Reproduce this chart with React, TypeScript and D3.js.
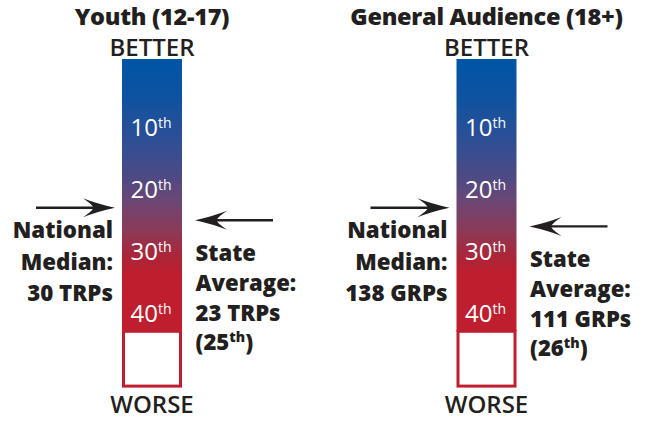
import React from "react";
import * as d3 from "d3";

// ---- data ----
const panelTitles = ["Youth (12-17)", "General Audience (18+)"];
const nationalMedianLabels = ["30 TRPs", "138 GRPs"];
const stateAverageLabels = ["23 TRPs", "111 GRPs"];
const stateAveragePercentiles = [25, 26];
const nationalMedianPercentiles = [23, 23];
const percentileTicks = [10, 20, 30, 40];
const topLabel = "BETTER";
const bottomLabel = "WORSE";

// ---- layout ----
const W = 645;
const H = 421;
const BAR_W = 60;
const FONT = "'Open Sans', 'DejaVu Sans', sans-serif";
const INK = "#231f20";
const RED = "#be1e2d";

const BAR_TOP_PCT = -1;
const GRADIENT_END_PCT = 43;
const BAR_BOTTOM_PCT = 52;

const y = d3.scaleLinear().domain([0, 50]).range([65.2, 375.2]);
const x = d3.scalePoint<string>().domain(panelTitles).range([152, 486.5]);

const arrowHead = (tipX: number, tipY: number, dir: number) => {
  // dir = 1 points right, -1 points left
  const p = d3.path();
  const L = 32;
  const Hh = 9.5;
  p.moveTo(tipX, tipY);
  p.quadraticCurveTo(tipX - dir * L * 0.55, tipY - Hh * 0.4, tipX - dir * L, tipY - Hh);
  p.quadraticCurveTo(tipX - dir * L * 0.62, tipY - 1, tipX - dir * L * 0.7, tipY);
  p.quadraticCurveTo(tipX - dir * L * 0.62, tipY + 1, tipX - dir * L, tipY + Hh);
  p.quadraticCurveTo(tipX - dir * L * 0.55, tipY + Hh * 0.4, tipX, tipY);
  p.closePath();
  return p.toString();
};

const Sup = ({ base, sup, extra }: { base: string; sup: string; extra?: string }) => (
  <>
    {base}
    <tspan dy={-8} fontSize={14}>
      {sup}
    </tspan>
    {extra !== undefined ? <tspan dy={8}>{extra}</tspan> : null}
  </>
);

export default function App() {
  return (
    <svg width={W} height={H} style={{ position: "absolute", left: 0, top: 0, background: "#fff" }}>
      <defs>
        <linearGradient id="barGrad" x1="0" y1="0" x2="0" y2="1">
          <stop offset="0%" stopColor="#0055a6" />
          <stop offset="15%" stopColor="#10529f" />
          <stop offset="30%" stopColor="#2f4f95" />
          <stop offset="42%" stopColor="#4a4a85" />
          <stop offset="52%" stopColor="#6b4775" />
          <stop offset="63%" stopColor="#8c3a57" />
          <stop offset="72%" stopColor="#aa2639" />
          <stop offset="79%" stopColor={RED} />
          <stop offset="100%" stopColor={RED} />
        </linearGradient>
      </defs>
      {panelTitles.map((title, i) => {
        const cx = x(title) as number;
        const left = cx - BAR_W / 2;
        const right = cx + BAR_W / 2;
        const natY = y(nationalMedianPercentiles[i]);
        const stY = y(stateAveragePercentiles[i]);
        const natTip = left - 7;
        const stTip = right + 13;
        return (
          <g key={title} fontFamily={FONT} fill={INK}>
            <text x={cx} y={25} textAnchor="middle" fontSize={23.5} fontWeight={800} letterSpacing={-0.3}>
              {title}
            </text>
            <text x={cx} y={56} textAnchor="middle" fontSize={24} fontWeight={600}>
              {topLabel}
            </text>
            <rect x={left} y={y(BAR_TOP_PCT)} width={BAR_W} height={y(GRADIENT_END_PCT) - y(BAR_TOP_PCT)} fill="url(#barGrad)" />
            <rect
              x={left + 1.5}
              y={y(GRADIENT_END_PCT) - 0.5}
              width={BAR_W - 3}
              height={y(BAR_BOTTOM_PCT) - y(GRADIENT_END_PCT) - 1}
              fill="#fff"
              stroke={RED}
              strokeWidth={3}
            />
            {percentileTicks.map((p) => (
              <text key={p} x={cx - 1} y={y(p) + 8.5} textAnchor="middle" fontSize={24} fill="#fff" fontWeight={400}>
                <Sup base={String(p)} sup="th" />
              </text>
            ))}
            <text x={cx} y={413} textAnchor="middle" fontSize={24} fontWeight={600}>
              {bottomLabel}
            </text>
            {/* national median arrow */}
            <line x1={natTip - 79} x2={natTip - 20} y1={natY} y2={natY} stroke={INK} strokeWidth={2.4} />
            <path d={arrowHead(natTip, natY, 1)} fill={INK} />
            <g fontSize={22.3} fontWeight={800} textAnchor="end">
              {["National", "Median:", nationalMedianLabels[i]].map((t, k) => (
                <text key={k} x={left - 9} y={natY + 30 + k * 31.7}>
                  {t}
                </text>
              ))}
            </g>
            {/* state average arrow */}
            <line x1={stTip + 20} x2={stTip + 78} y1={stY} y2={stY} stroke={INK} strokeWidth={2.4} />
            <path d={arrowHead(stTip, stY, -1)} fill={INK} />
            <g fontSize={22.1} fontWeight={800} textAnchor="start">
              {["State", "Average:", stateAverageLabels[i]].map((t, k) => (
                <text key={k} x={stTip + 0.5} y={stY + 41 + k * 30}>
                  {t}
                </text>
              ))}
              <text x={stTip + 0.5} y={stY + 41 + 3 * 30 - 1}>
                <Sup base={"(" + stateAveragePercentiles[i]} sup="th" extra=")" />
              </text>
            </g>
          </g>
        );
      })}
    </svg>
  );
}
